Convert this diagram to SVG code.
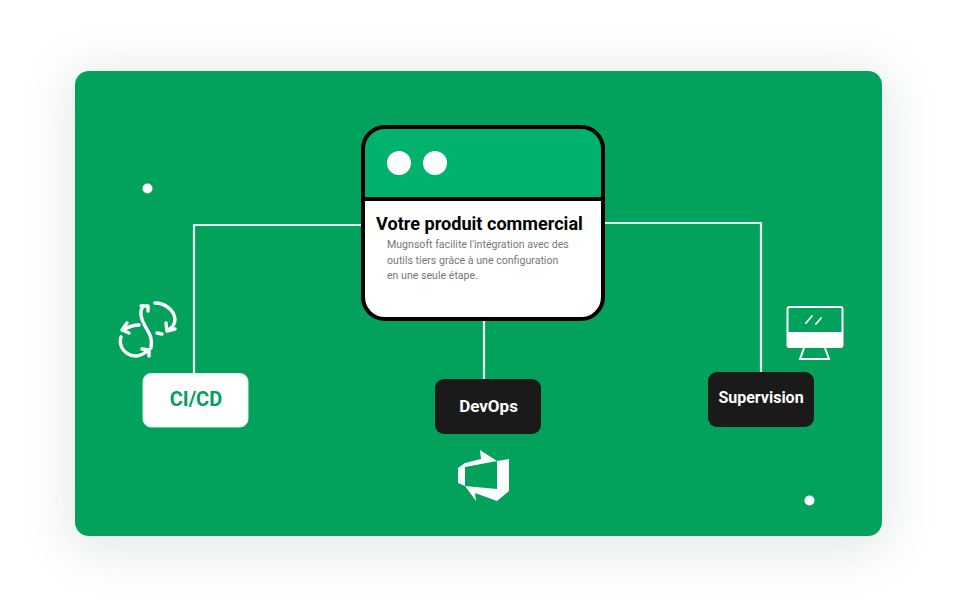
<svg xmlns="http://www.w3.org/2000/svg" width="957" height="615" viewBox="0 0 957 615">
<defs>
<filter id="sh" x="-20%" y="-30%" width="140%" height="160%"><feGaussianBlur stdDeviation="26"/></filter>
</defs>
<style>
text{font-family:Roboto,"Liberation Sans",sans-serif}
.w{fill:none;stroke:#fff;stroke-linecap:round;stroke-linejoin:round}
.lbl{font-size:16px;font-weight:700;text-anchor:middle;fill:#fff}
.body{font-size:10.600px;fill:#777}
</style>
<rect width="957" height="615" fill="#fff"/>
<rect x="70" y="70" width="817" height="480" rx="14" fill="#33504a" opacity=".13" filter="url(#sh)"/>
<rect x="75" y="71" width="807" height="465" rx="14" fill="#02a15c"/>
<circle cx="147.500" cy="188.500" r="5" fill="#fff"/>
<circle cx="809.500" cy="500.500" r="5" fill="#fff"/>
<g id="connectors" fill="none" stroke="#fff" stroke-width="2.200" stroke-opacity=".9">
<path d="M362 225H194V373"/>
<path d="M603 223H761V373"/>
<path d="M484 319V380"/>
</g>
<g id="product">
<rect x="363" y="127" width="240" height="192" rx="22" fill="#fff"/>
<path d="M363 199V149a22 22 0 0 1 22-22h196a22 22 0 0 1 22 22v50z" fill="#00b26b"/>
<rect x="363" y="127" width="240" height="192" rx="22" fill="none" stroke="#000" stroke-width="4"/>
<path d="M363 199H603" stroke="#000" stroke-width="4"/>
<circle cx="399" cy="163" r="12" fill="#fff"/>
<circle cx="435" cy="163" r="12" fill="#fff"/>
<text x="376" y="230" font-size="18.100" font-weight="700" fill="#000">Votre produit commercial</text>
<text class="body" x="387" y="248">Mugnsoft facilite l'intégration avec des</text>
<text class="body" x="387" y="264">outils tiers grâce à une configuration</text>
<text class="body" x="387" y="279">en une seule étape.</text>
</g>
<g id="cicd">
<rect x="143" y="373.500" width="105" height="53.500" rx="8" fill="#fff" stroke="#d5f3e4" stroke-width="1"/>
<text x="196" y="406" font-size="20" font-weight="700" text-anchor="middle" fill="#02a15c">CI/CD</text>
<g class="w" stroke-width="3.400">
<path d="M143 306C139 312 141 319 145 326C149 333 153 338 151 348"/>
<path d="M141 306H148V311"/>
<path d="M155 303C165 303 174 310 175 319C175 324 172 328 168 330"/>
<path d="M166 323L167 331L175 329"/>
<path d="M157 333L162 334"/>
<path d="M121 337C118 347 126 356 136 356C141 356 145 353 149 350"/>
<path d="M142 349L149 350L149 356"/>
<path d="M139 325C133 325 128 327 123 330"/>
<path d="M127 323L122 330L129 333"/>
</g>
</g>
<g id="devops">
<rect x="435" y="379" width="106" height="55" rx="9" fill="#1a1a1a"/>
<text class="lbl" x="488.500" y="412" style="font-size:17px">DevOps</text>
<path fill="#fff" fill-rule="evenodd" d="M480 450L497 461L509 459V491L497 501L475 493L476 501L465 486L458 483V468L465 463L481 459ZM465 467V486L497 489V461Z"/>
</g>
<g id="supervision">
<rect x="708" y="372" width="106" height="55" rx="9" fill="#1a1a1a"/>
<text class="lbl" x="761" y="403">Supervision</text>
<rect x="787.500" y="307" width="55" height="40" rx="2" fill="none" stroke="#fff" stroke-width="2"/>
<path d="M787 332H843V345a3 3 0 0 1-3 3H790a3 3 0 0 1-3-3z" fill="#fff"/>
<path d="M804 348L800 359H829L825 348" fill="none" stroke="#fff" stroke-width="2"/>
<path class="w" stroke-width="1.800" d="M806 323L812 316M816 324L821 318"/>
</g>
</svg>
